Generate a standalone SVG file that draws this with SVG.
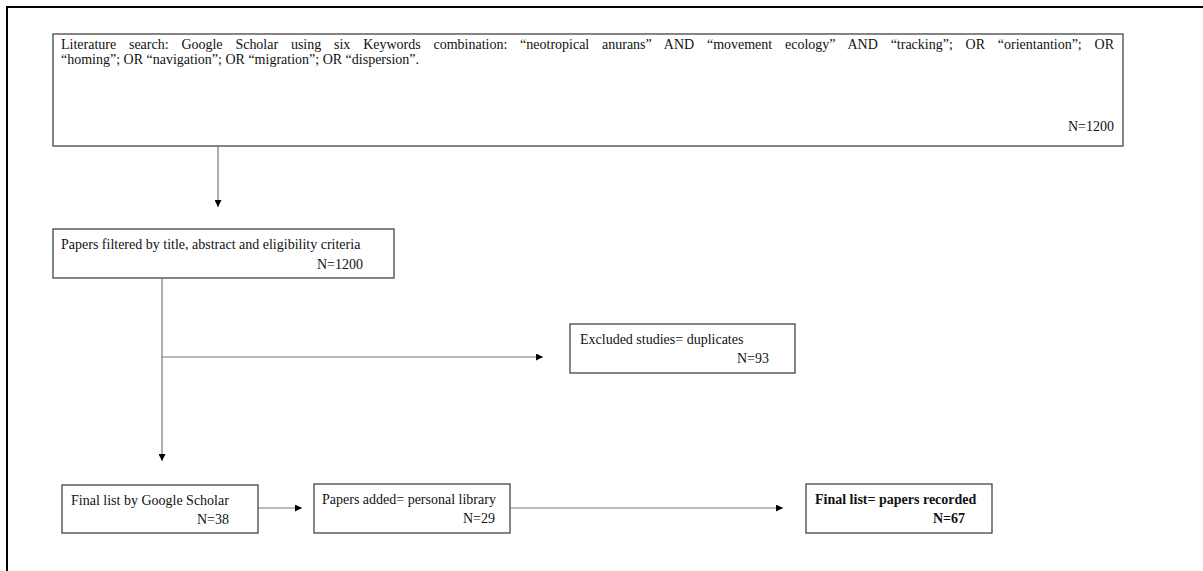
<svg xmlns="http://www.w3.org/2000/svg" width="1203" height="571" viewBox="0 0 1203 571">
<style>
.box{fill:#fff;stroke:#444;stroke-width:1.3}
.t{font-family:"Liberation Serif","Times New Roman",serif;font-size:14px;fill:#111}
.b{font-weight:bold}
.c{fill:none;stroke:#777;stroke-width:1.2}
.frame{fill:none;stroke:#000;stroke-width:2}
</style>
<defs>
<marker id="ah" viewBox="0 0 10 10" refX="10" refY="5" markerWidth="7" markerHeight="7" markerUnits="userSpaceOnUse" orient="auto">
<path d="M0,0 L10,5 L0,10 z" fill="#000"/>
</marker>
</defs>
<rect width="1203" height="571" fill="#fff"/>
<path class="frame" d="M7,571 V7 H1203"/>
<g id="search">
<rect class="box" x="53" y="34" width="1070" height="112"/>
<text class="t" x="61" y="49" word-spacing="9.3" textLength="1053" lengthAdjust="spacing">Literature search: Google Scholar using six Keywords combination: “neotropical anurans” AND “movement ecology” AND “tracking”; OR “orientantion”; OR</text>
<text class="t" x="61" y="64">“homing”; OR “navigation”; OR “migration”; OR “dispersion”.</text>
<text class="t" x="1114" y="131" text-anchor="end">N=1200</text>
</g>
<g id="filtered">
<rect class="box" x="53" y="229" width="341" height="49"/>
<text class="t" x="61" y="249">Papers filtered by title, abstract and eligibility criteria</text>
<text class="t" x="363" y="269" text-anchor="end">N=1200</text>
</g>
<g id="excluded">
<rect class="box" x="570" y="324" width="225" height="49"/>
<text class="t" x="580" y="344">Excluded studies= duplicates</text>
<text class="t" x="769" y="363" text-anchor="end">N=93</text>
</g>
<g id="gscholar">
<rect class="box" x="62" y="485" width="196" height="48"/>
<text class="t" x="71" y="505">Final list by Google Scholar</text>
<text class="t" x="229" y="524" text-anchor="end">N=38</text>
</g>
<g id="personal">
<rect class="box" x="314" y="484" width="196" height="49"/>
<text class="t" x="322" y="504">Papers added= personal library</text>
<text class="t" x="495" y="523" text-anchor="end">N=29</text>
</g>
<g id="final">
<rect class="box" x="806" y="484" width="186" height="49"/>
<text class="t b" x="815" y="504">Final list= papers recorded</text>
<text class="t b" x="965" y="523" text-anchor="end">N=67</text>
</g>
<g id="connectors">
<path class="c" d="M218,146 V207" marker-end="url(#ah)"/>
<path class="c" d="M162,278 V461" marker-end="url(#ah)"/>
<path class="c" d="M162,357 H543" marker-end="url(#ah)"/>
<path class="c" d="M258,508 H302" marker-end="url(#ah)"/>
<path class="c" d="M510,508 H783" marker-end="url(#ah)"/>
</g>
</svg>
